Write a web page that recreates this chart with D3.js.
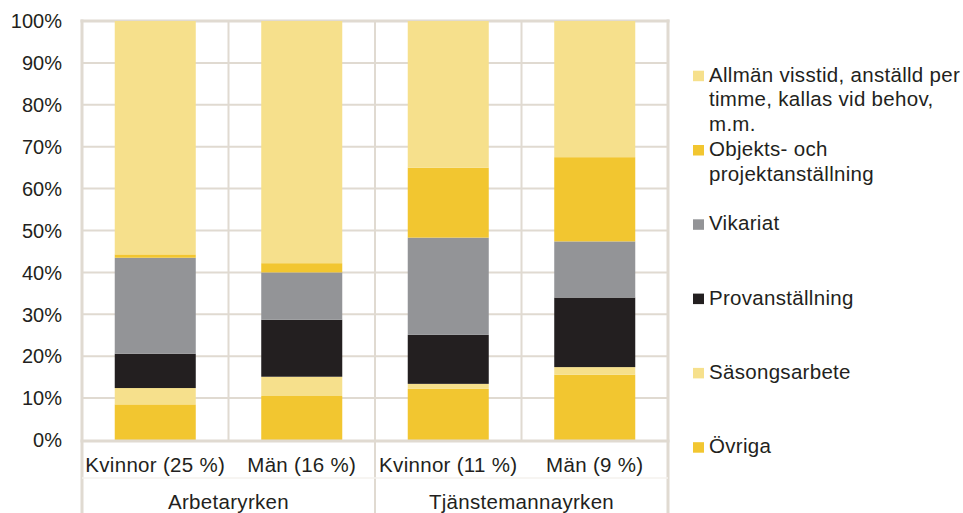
<!DOCTYPE html>
<html>
<head>
<meta charset="utf-8">
<script src="https://cdn.jsdelivr.net/npm/d3@7"></script>
<style>
html,body{margin:0;padding:0;background:#fff;}
svg{display:block;}
text{font-family:"Liberation Sans",Arial,sans-serif;fill:#231f20;}
.lbl{font-size:20.5px;letter-spacing:0.3px;}
</style>
</head>
<body>
<svg id="chart" width="963" height="513"></svg>
<script>
// ---- data ----
const categories = ["Kvinnor (25 %)", "Män (16 %)", "Kvinnor (11 %)", "Män (9 %)"];
const groups = ["Arbetaryrken", "Tjänstemannayrken"];
const ovriga   = [8.5, 10.5, 12.2, 15.6];
const sasong   = [3.9, 4.6, 1.2, 1.8];
const prov     = [8.2, 13.6, 11.7, 16.6];
const vikariat = [22.9, 11.3, 23.2, 13.4];
const objekts  = [0.8, 2.2, 16.7, 20.1];
const allman   = [55.7, 57.8, 35.0, 32.5];
const yTicks = [0, 10, 20, 30, 40, 50, 60, 70, 80, 90, 100];

// series, bottom to top
const seriesNames = ["Övriga", "Säsongsarbete", "Provanställning", "Vikariat", "Objekts- och projektanställning", "Allmän visstid, anställd per timme, kallas vid behov, m.m."];
const seriesVals = [ovriga, sasong, prov, vikariat, objekts, allman];
const seriesColors = ["#f2c630", "#f6e08c", "#231f20", "#939497", "#f2c630", "#f6e08c"];
// legend labels (lines), top to bottom
const legendLines = [
  ["Allmän visstid, anställd per", "timme, kallas vid behov,", "m.m."],
  ["Objekts- och", "projektanställning"],
  ["Vikariat"],
  ["Provanställning"],
  ["Säsongsarbete"],
  ["Övriga"]
];

const svg = d3.select("#chart");
const L = 82, R = 668, T = 21, B = 440;
const gridColor = "#e0dad1";

const x = d3.scaleBand().domain(categories).range([L, R]).paddingInner(0.447).paddingOuter(0.2235);
const xg = d3.scaleBand().domain(groups).range([L, R]);
const y = d3.scaleLinear().domain([0, 100]).range([B, T]);

// grid
const grid = svg.append("g");
grid.selectAll("line.h").data(yTicks.filter(d => d > 0 && d < 100)).join("line")
  .attr("x1", L).attr("x2", R).attr("y1", d => y(d)).attr("y2", d => y(d))
  .attr("stroke", gridColor).attr("stroke-width", 2);
grid.append("line").attr("x1", L - 1.5).attr("x2", R + 1.5).attr("y1", y(100)).attr("y2", y(100))
  .attr("stroke", gridColor).attr("stroke-width", 3);
const step = x.step();
const divs = d3.range(1, categories.length).map(i => L + i * step);
grid.selectAll("line.v").data(divs).join("line")
  .attr("x1", d => d).attr("x2", d => d).attr("y1", T).attr("y2", d => (Math.abs(d - xg(groups[1])) < 1 ? 513 : B))
  .attr("stroke", gridColor).attr("stroke-width", 2);
[L, R].forEach(px => grid.append("line").attr("x1", px).attr("x2", px).attr("y1", T - 1.5).attr("y2", 513)
  .attr("stroke", gridColor).attr("stroke-width", 3));
grid.append("line").attr("x1", L).attr("x2", R).attr("y1", 478).attr("y2", 478)
  .attr("stroke", "#f4f2ee").attr("stroke-width", 1.5);

// stacked bars
const rows = categories.map((c, i) => {
  const o = {cat: c};
  seriesNames.forEach((s, k) => o[s] = seriesVals[k][i]);
  return o;
});
const stacked = d3.stack().keys(seriesNames)(rows);
svg.append("g").selectAll("g").data(stacked).join("g")
  .attr("fill", (d, k) => seriesColors[k])
  .selectAll("rect").data(d => d).join("rect")
  .attr("x", d => x(d.data.cat))
  .attr("width", x.bandwidth())
  .attr("y", d => y(d[1]))
  .attr("height", d => y(d[0]) - y(d[1]));

// x axis line
svg.append("line").attr("x1", L - 1.5).attr("x2", R + 1.5).attr("y1", B + 1).attr("y2", B + 1)
  .attr("stroke", gridColor).attr("stroke-width", 3);

// y tick labels
svg.append("g").selectAll("text").data(yTicks).join("text")
  .attr("x", 62).attr("y", d => y(d))
  .attr("dy", "0.36em")
  .attr("text-anchor", "end")
  .style("font-size", "20px")
  .text(d => d + "%");

// category labels
svg.append("g").selectAll("text").data(categories).join("text")
  .attr("class", "lbl")
  .attr("x", d => x(d) + x.bandwidth() / 2).attr("y", 472)
  .attr("text-anchor", "middle")
  .text(d => d);

// group labels
svg.append("g").selectAll("text").data(groups).join("text")
  .attr("class", "lbl")
  .attr("x", d => xg(d) + xg.bandwidth() / 2).attr("y", 509)
  .attr("text-anchor", "middle")
  .text(d => d);

// legend
const legColors = seriesColors.slice().reverse();
const leg = svg.append("g");
legendLines.forEach((lines, i) => {
  const by = 81.7 + i * 74.3;
  leg.append("rect").attr("x", 693).attr("y", by - 11).attr("width", 11).attr("height", 10.5).attr("fill", legColors[i]);
  const t = leg.append("text").attr("class", "lbl").attr("x", 709).attr("y", by);
  lines.forEach((ln, j) => t.append("tspan").attr("x", 709).attr("dy", j === 0 ? 0 : 24.5).text(ln));
});
</script>
</body>
</html>
